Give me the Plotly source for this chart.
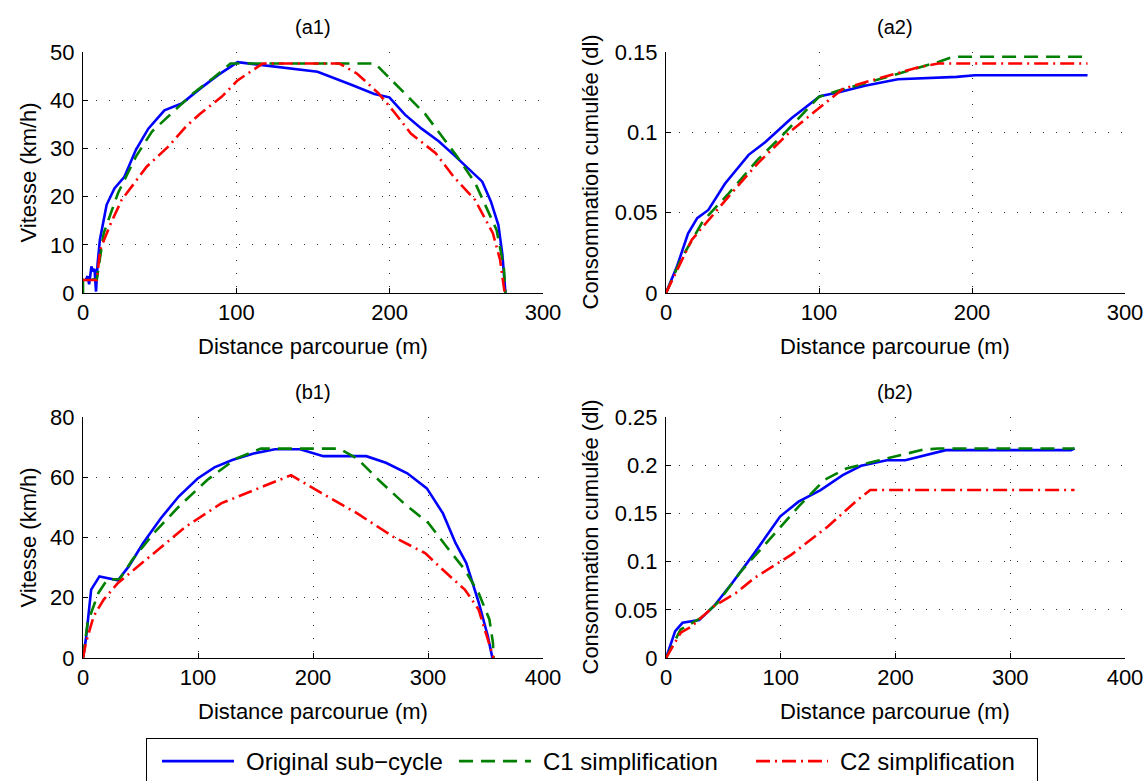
import plotly.graph_objects as go

# ---------------- data ----------------
# (a1) speed vs distance
a1_orig_x = [1.5, 3, 4, 5.5, 6.5, 7.5, 8.5, 9.5, 11, 15.4, 20.5, 27, 34.5, 42.6, 53.1, 64.8, 76.4, 88, 100.8, 125, 153, 175, 190, 199.8, 210, 220.8, 232, 242, 251, 260.4, 266, 270.9, 273.5, 275, 275.5]
a1_orig_y = [2.5, 3.5, 1.8, 5.5, 4.5, 5.0, 0.3, 6.0, 11, 18.3, 21.7, 24.1, 29.7, 34.1, 37.9, 39.4, 42.4, 45.2, 47.9, 46.9, 45.9, 43.2, 41.3, 40.6, 37.0, 34.1, 31.5, 28.6, 25.9, 23.1, 19.0, 14.1, 8.0, 3.0, 0]
a1_c1_x = [0, 0, 9, 13.5, 22.8, 34.5, 45, 57.8, 71.7, 85.7, 96.2, 190.5, 204.5, 223, 244, 255.8, 269.7, 274.4, 275.5]
a1_c1_y = [0, 2.8, 2.8, 12.4, 20.7, 28.3, 33.5, 37.2, 41.4, 44.8, 47.6, 47.6, 43.1, 37.2, 28.3, 22.8, 13.1, 5.5, 0]
a1_c2_x = [0, 9, 11.2, 18.2, 25.2, 41.5, 55.4, 67, 76.4, 90.4, 100.8, 117.1, 167.2, 178.8, 192.8, 202, 213.8, 230, 241.8, 255.7, 267.3, 272, 275]
a1_c2_y = [2.7, 2.7, 9.0, 14.5, 19.3, 26.2, 30.3, 34.5, 37.2, 40.7, 44.1, 47.6, 47.6, 45.5, 41.4, 37.9, 33.1, 29.0, 24.1, 19.3, 12.4, 6.9, 0]

# (a2) cumulated consumption vs distance
a2_orig_x = [0, 7.2, 14.4, 20.4, 27.7, 38.5, 54, 65, 81.8, 100.6, 113, 130, 151.6, 190, 202, 275.5]
a2_orig_y = [0, 0.0166, 0.037, 0.0466, 0.0517, 0.068, 0.086, 0.094, 0.1086, 0.1225, 0.125, 0.129, 0.133, 0.1345, 0.1355, 0.1355]
a2_c1_x = [0, 9.6, 24, 41, 60, 77, 99.8, 113, 146.7, 178, 187.6, 275.5]
a2_c1_y = [0, 0.0207, 0.0445, 0.062, 0.083, 0.099, 0.122, 0.126, 0.135, 0.1438, 0.147, 0.147]
a2_c2_x = [0, 16.8, 40.9, 60, 81.8, 101, 115.5, 134.7, 166, 178, 275.5]
a2_c2_y = [0, 0.033, 0.06, 0.0807, 0.101, 0.116, 0.127, 0.1324, 0.1407, 0.1428, 0.1428]

# (b1) speed vs distance
b1_orig_x = [0, 2.5, 7.1, 14.3, 30.4, 39.8, 52.2, 67.7, 83.2, 99.7, 114.3, 129.8, 148.4, 167, 188.8, 209, 246.3, 263.4, 282, 299, 313, 324, 333.3, 344.2, 352, 356]
b1_orig_y = [0, 6.2, 22.7, 27.1, 25.8, 30.4, 38.1, 46.4, 53.6, 59.6, 63.3, 65.7, 67.9, 69.3, 69.3, 67.0, 67.0, 64.8, 61.3, 56.3, 48.0, 38.1, 31.5, 18.3, 7.3, 0]
b1_c1_x = [0, 4, 13.4, 21.1, 32, 42.9, 61.5, 83.2, 108, 133, 154.7, 223, 238.5, 257.1, 278.9, 300.6, 316, 332, 344, 353.4, 356.5, 357]
b1_c1_y = [0, 11.7, 21.6, 26.0, 26.2, 32.6, 41.4, 50.2, 59.1, 66.2, 69.5, 69.5, 66.2, 59.1, 51.4, 44.7, 37.0, 29.3, 21.6, 12.8, 5.0, 0]
b1_c2_x = [0, 2.5, 9.3, 18, 30.4, 58.4, 89.4, 120.5, 151.6, 181, 207.5, 238.5, 269.5, 297.5, 316, 332, 344, 353.4, 357]
b1_c2_y = [0, 5.0, 13.9, 19.4, 24.9, 33.7, 43.6, 51.4, 56.3, 60.7, 54.7, 48.0, 40.3, 34.8, 28.2, 22.7, 16.1, 5.0, 0]

# (b2) cumulated consumption vs distance
b2_orig_x = [0, 8, 14.4, 28.9, 41.7, 57.7, 77, 99.4, 115.5, 134.7, 154, 170, 192.5, 208.5, 243.8, 352.8, 356]
b2_orig_y = [0, 0.0279, 0.0365, 0.0393, 0.0537, 0.0778, 0.1088, 0.1467, 0.1622, 0.1742, 0.1897, 0.1994, 0.2052, 0.2052, 0.2156, 0.2156, 0.2173]
b2_c1_x = [0, 12.8, 30.5, 44.9, 64.2, 89.8, 115.5, 137.9, 157.2, 186, 224.5, 237.4, 356]
b2_c1_y = [0, 0.0296, 0.0417, 0.0572, 0.0882, 0.1226, 0.157, 0.1846, 0.1966, 0.2052, 0.2162, 0.2173, 0.2173]
b2_c2_x = [0, 12.8, 22.5, 41.7, 61, 77, 109, 141.1, 166.8, 178, 356]
b2_c2_y = [0, 0.0262, 0.033, 0.0537, 0.0675, 0.083, 0.107, 0.1364, 0.1639, 0.1742, 0.1742]

series_names = ["Original sub\u2212cycle", "C1 simplification", "C2 simplification"]
panel_titles = ["(a1)", "(a2)", "(b1)", "(b2)"]
x_title = "Distance parcourue (m)"
y_titles = ["Vitesse (km/h)", "Consommation cumul\u00e9e (dl)", "Vitesse (km/h)", "Consommation cumul\u00e9e (dl)"]

x_ticks = [[0, 100, 200, 300], [0, 100, 200, 300], [0, 100, 200, 300, 400], [0, 100, 200, 300, 400]]
y_ticks = [[0, 10, 20, 30, 40, 50], [0, 0.05, 0.1, 0.15], [0, 20, 40, 60, 80], [0, 0.05, 0.1, 0.15, 0.2, 0.25]]
y_tick_text = [["0", "10", "20", "30", "40", "50"], ["0", "0.05", "0.1", "0.15"],
               ["0", "20", "40", "60", "80"], ["0", "0.05", "0.1", "0.15", "0.2", "0.25"]]

# ---------------- styling ----------------
W, H = 1148, 781
FONT = "Liberation Sans, Arial, sans-serif"
styles = [dict(color="#0000FF", width=2.6, dash="solid"),
          dict(color="#008000", width=2.6, dash="14px,8px"),
          dict(color="#FF0000", width=2.6, dash="14px,5px,2px,5px")]

# plot boxes in pixels: (left, top, right, bottom)
boxes = [(83, 52, 543, 293), (666, 52, 1125, 293), (83, 417, 543, 658), (666, 417, 1125, 658)]

panels = [
    [(a1_orig_x, a1_orig_y), (a1_c1_x, a1_c1_y), (a1_c2_x, a1_c2_y)],
    [(a2_orig_x, a2_orig_y), (a2_c1_x, a2_c1_y), (a2_c2_x, a2_c2_y)],
    [(b1_orig_x, b1_orig_y), (b1_c1_x, b1_c1_y), (b1_c2_x, b1_c2_y)],
    [(b2_orig_x, b2_orig_y), (b2_c1_x, b2_c1_y), (b2_c2_x, b2_c2_y)],
]

fig = go.Figure()
annotations = []
layout_axes = {}
for i, (panel, box) in enumerate(zip(panels, boxes)):
    n = i + 1
    xa = "x" if n == 1 else f"x{n}"
    ya = "y" if n == 1 else f"y{n}"
    for j, (xs, ys) in enumerate(panel):
        fig.add_trace(go.Scatter(x=xs, y=ys, xaxis=xa, yaxis=ya, mode="lines",
                                 line=styles[j], name=series_names[j],
                                 legendgroup=series_names[j], showlegend=(i == 0)))
    l, t, r, b = box
    xd = [l / W, r / W]
    yd = [(H - b) / H, (H - t) / H]
    common = dict(showline=True, linecolor="black", linewidth=1, mirror=False,
                  ticks="inside", ticklen=5, tickcolor="black", tickwidth=1,
                  showgrid=True, gridcolor="#333333", gridwidth=1, griddash="1px,12px",
                  zeroline=False, tickfont=dict(family=FONT, size=22, color="black"),
                  fixedrange=True, automargin=False)
    layout_axes["xaxis" if n == 1 else f"xaxis{n}"] = dict(
        common, domain=xd, anchor=ya, range=[0, x_ticks[i][-1]], tickvals=x_ticks[i],
        ticktext=[str(v) for v in x_ticks[i]])
    layout_axes["yaxis" if n == 1 else f"yaxis{n}"] = dict(
        common, domain=yd, anchor=xa, range=[0, y_ticks[i][-1]], tickvals=y_ticks[i],
        ticktext=y_tick_text[i], ticklabelstandoff=3)
    cx = (l + r) / 2
    # panel title
    annotations.append(dict(text=panel_titles[i], x=cx / W, y=(H - (t - 25)) / H,
                            xref="paper", yref="paper", showarrow=False,
                            xanchor="center", yanchor="middle",
                            font=dict(family=FONT, size=20, color="black")))
    # x title
    annotations.append(dict(text=x_title, x=cx / W, y=(H - (b + 53)) / H,
                            xref="paper", yref="paper", showarrow=False,
                            xanchor="center", yanchor="middle",
                            font=dict(family=FONT, size=22, color="black")))
    # y title
    ytx = 28 if i in (0, 2) else 590
    annotations.append(dict(text=y_titles[i], x=ytx / W, y=(H - (t + b) / 2) / H,
                            xref="paper", yref="paper", showarrow=False, textangle=-90,
                            xanchor="center", yanchor="middle",
                            font=dict(family=FONT, size=22, color="black")))

fig.update_layout(
    width=W, height=H, margin=dict(l=0, r=0, t=0, b=0, autoexpand=False),
    paper_bgcolor="white", plot_bgcolor="white",
    annotations=annotations,
    showlegend=True,
    legend=dict(orientation="h", x=146 / W, xanchor="left", y=(H - 738) / H, yanchor="top",
                bordercolor="black", borderwidth=1, bgcolor="white",
                font=dict(family=FONT, size=24, color="black"),
                itemwidth=90, entrywidth=192, entrywidthmode="pixels"),
    **layout_axes,
)

post = """
document.body.style.margin = '0';
document.body.style.padding = '0';
var gd = document.getElementsByClassName('plotly-graph-div')[0];
function fixLegend(){
  gd.querySelectorAll('g.legend g.traces').forEach(function(tr){
    var txt = tr.querySelector('text.legendtext');
    var x = txt ? parseFloat(txt.getAttribute('x')) : 40;
    tr.querySelectorAll('g.legendlines path').forEach(function(p){
      p.setAttribute('d', 'M16,0H' + (x - 12));
    });
  });
}
fixLegend();
gd.on('plotly_afterplot', fixLegend);
"""
fig.write_html("out.html", post_script=post, config={"displayModeBar": False})
